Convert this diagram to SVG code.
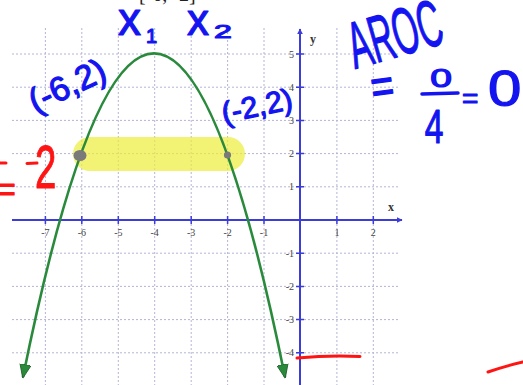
<svg xmlns="http://www.w3.org/2000/svg" width="523" height="385" viewBox="0 0 523 385">
<defs>
<style>
.grid{stroke:#b4b4d4;stroke-width:1;stroke-dasharray:2 2;fill:none}
.axis{stroke:#3c3cd8;stroke-width:2;fill:none}
.tick{stroke:#3c3cd8;stroke-width:1.5}
.lbl{font-family:"Liberation Serif",serif;font-size:10px;fill:#444}
.blue{font-family:"Liberation Sans",sans-serif;fill:#1414f0;stroke:#1414f0;stroke-width:1.2;stroke-linejoin:round}
.red{font-family:"Liberation Sans",sans-serif;fill:#ff1414;stroke:#ff1414;stroke-width:1;stroke-linejoin:round}
.bstroke{stroke:#1414f0;stroke-width:3.5;stroke-linecap:round;fill:none}
.rstroke{stroke:#ff1414;stroke-width:3;stroke-linecap:round;fill:none}
</style>
<marker id="axArrow" viewBox="0 0 10 10" refX="9" refY="5" markerWidth="6" markerHeight="6" orient="auto" markerUnits="userSpaceOnUse">
<path d="M0,0 L10,5 L0,10 z" fill="#3c3cd8"/>
</marker>
<marker id="grArrow" viewBox="0 0 10 10" refX="9" refY="5" markerWidth="14" markerHeight="14" orient="auto-start-reverse" markerUnits="userSpaceOnUse">
<path d="M0,1 L10,5 L0,9 z" fill="#2a8a3c" stroke="#1f5f2a" stroke-width="0.6"/>
</marker>
</defs>
<rect width="523" height="385" fill="#fff"/>

<g id="grid">
<path class="grid" d="M45.4,28V385 M81.8,28V385 M118.3,28V385 M154.7,28V385 M191.2,28V385 M227.6,28V385 M264,28V385 M336.9,28V385 M373.3,28V385"/>
<path class="grid" d="M12,54H399 M12,87.2H399 M12,120.4H399 M12,153.6H399 M12,186.8H399 M12,253.2H399 M12,286.4H399 M12,319.6H399 M12,352.8H399"/>
</g>

<g id="axes">
<line class="axis" x1="12" y1="220" x2="402" y2="220" marker-end="url(#axArrow)"/>
<line class="axis" x1="300" y1="385" x2="300" y2="29" marker-end="url(#axArrow)"/>
<path class="tick" d="M45.4,216V224 M81.8,216V224 M118.3,216V224 M154.7,216V224 M191.2,216V224 M227.6,216V224 M264,216V224 M336.9,216V224 M373.3,216V224"/>
<path class="tick" d="M296,54H304 M296,87.2H304 M296,120.4H304 M296,153.6H304 M296,186.8H304 M296,253.2H304 M296,286.4H304 M296,319.6H304 M296,352.8H304"/>
<g class="lbl" text-anchor="middle">
<text x="45.4" y="236">-7</text><text x="81.8" y="236">-6</text><text x="118.3" y="236">-5</text><text x="154.7" y="236">-4</text><text x="191.2" y="236">-3</text><text x="227.6" y="236">-2</text><text x="264" y="236">-1</text><text x="336.9" y="236">1</text><text x="373.3" y="236">2</text>
</g>
<g class="lbl" text-anchor="end">
<text x="294" y="57.5">5</text><text x="294" y="90.7">4</text><text x="294" y="123.9">3</text><text x="294" y="157.1">2</text><text x="294" y="190.3">1</text><text x="294" y="256.7">-1</text><text x="294" y="289.9">-2</text><text x="294" y="323.1">-3</text><text x="294" y="356.3">-4</text>
</g>
<text x="388" y="211" font-family="Liberation Serif,serif" font-size="12" font-weight="bold" fill="#333">x</text>
<text x="310" y="43" font-family="Liberation Serif,serif" font-size="12" font-weight="bold" fill="#333">y</text>
</g>

<g id="highlight">
<rect x="73" y="137" width="172" height="34" rx="17" fill="#eded3a" opacity="0.7"/>
</g>

<g id="parabola">
<path d="M23,377 Q154,-270.2 285,377" fill="none" stroke="#2a8a3c" stroke-width="2.6" marker-start="url(#grArrow)" marker-end="url(#grArrow)"/>
</g>

<g id="points">
<ellipse cx="80" cy="155.5" rx="6.5" ry="5.5" fill="#7a7a7a"/>
<circle cx="227.5" cy="155" r="3.6" fill="#7a7a7a"/>
</g>

<g id="top-label">
<text x="139" y="1" font-family="Liberation Serif,serif" font-size="20" fill="#222">[-6,   -2]</text>
</g>

<g id="blue-notes">
<text class="blue" x="118" y="35" font-size="46">x</text>
<text class="blue" x="146" y="43" font-size="20">1</text>
<text class="blue" x="187" y="35" font-size="44">x</text>
<text class="blue" transform="translate(214,38) scale(1.6,0.9)" font-size="20">2</text>
<text class="blue" transform="translate(72,96) rotate(-25)" text-anchor="middle" font-size="34">(-6,2)</text>
<text class="blue" transform="translate(259,116) rotate(-12)" text-anchor="middle" font-size="30">(-2,2)</text>
<text class="blue" transform="translate(355,69) rotate(-16) scale(0.5,1)" font-size="66" stroke-width="3">AROC</text>
<text class="blue" transform="translate(373,104) rotate(-8) scale(0.9,1.1)" font-size="44" stroke-width="0.6">=</text>
<text class="blue" transform="translate(441,87) scale(1.5,1)" text-anchor="middle" font-size="26" stroke-width="0.8">0</text>
<line class="bstroke" x1="422" y1="94" x2="458" y2="93"/>
<text class="blue" transform="translate(434,143) scale(0.7,1)" text-anchor="middle" font-size="48" stroke-width="1.2">4</text>
<text class="blue" x="462" y="108" font-size="28" stroke-width="0.6">=</text>
<text class="blue" transform="translate(488,106) scale(1.2,1)" font-size="50" stroke-width="1">0</text>
</g>

<g id="red-notes">
<line class="rstroke" x1="0" y1="163" x2="6" y2="163"/>
<text class="red" x="-4" y="201" font-size="34" stroke-width="0.5">=</text>
<line class="rstroke" x1="27" y1="163.5" x2="37" y2="163"/>
<text class="red" transform="translate(35,188) scale(0.62,1)" font-size="62" stroke-width="1">2</text>
<path class="rstroke" d="M297,358 Q330,355 360,356.5"/>
<path class="rstroke" d="M488,372 Q505,366 523,362"/>
</g>
</svg>
